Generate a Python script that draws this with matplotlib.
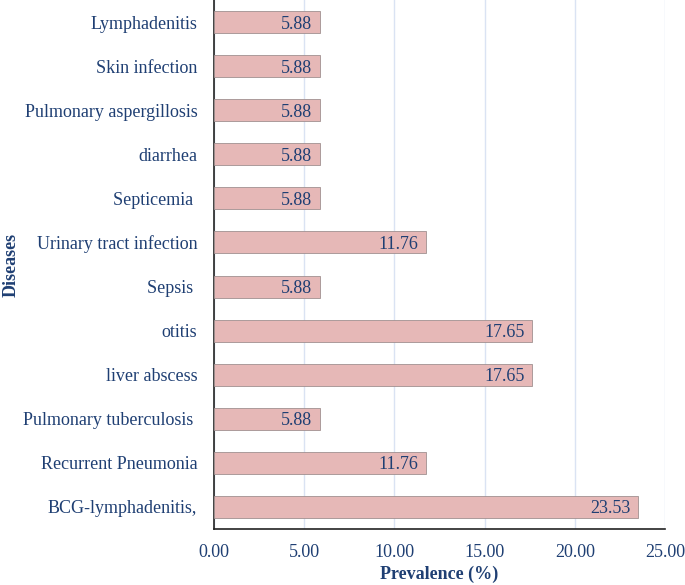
import matplotlib
matplotlib.use("Agg")
import matplotlib.pyplot as plt

diseases = ["BCG-lymphadenitis,", "Recurrent Pneumonia", "Pulmonary tuberculosis ",
            "liver abscess", "otitis", "Sepsis ", "Urinary tract infection",
            "Septicemia ", "diarrhea", "Pulmonary aspergillosis", "Skin infection",
            "Lymphadenitis"]
prevalence = [23.53, 11.76, 5.88, 17.65, 17.65, 5.88, 11.76, 5.88, 5.88, 5.88, 5.88, 5.88]
xticks = [0, 5, 10, 15, 20, 25]

plt.rcParams['font.family'] = ['Liberation Serif', 'DejaVu Serif']
text_color = '#1F3F73'
bar_color = '#E6B8B7'

fig = plt.figure(figsize=(6.85, 5.85), dpi=100)
ax = fig.add_axes([0.3124, 0.0957, 0.6584, 0.9043])

ypos = list(range(len(diseases)))
ax.barh(ypos, prevalence, height=0.5, color=bar_color, edgecolor='#a09090', linewidth=0.6, zorder=3)
for y, v in zip(ypos, prevalence):
    ax.text(v - 0.45, y, f"{v:.2f}", ha='right', va='center_baseline', fontsize=13,
            color=text_color, zorder=4)

ax.set_xlim(0, 25)
ax.set_ylim(-0.5, len(diseases) - 0.5)
ax.set_yticks(ypos)
ax.set_yticklabels(diseases, fontsize=13, color=text_color)
ax.set_xticks(xticks)
ax.set_xticklabels([f"{t:.2f}" for t in xticks], fontsize=13, color=text_color)
ax.tick_params(axis='both', length=0)
ax.tick_params(axis='y', pad=12)
ax.tick_params(axis='x', pad=11)
ax.xaxis.grid(True, color='#DAE3F3', linewidth=1.0, zorder=0)
ax.set_axisbelow(True)
for s in ['top', 'right']:
    ax.spines[s].set_visible(False)
ax.spines['left'].set_color('#222222')
ax.spines['bottom'].set_color('#222222')
ax.spines['left'].set_linewidth(1.2)
ax.spines['bottom'].set_linewidth(1.2)

ax.set_xlabel("Prevalence (%)", fontsize=13, fontweight='bold', color=text_color, labelpad=3)
ax.set_ylabel("Diseases", fontsize=13, fontweight='bold', color=text_color)
ax.yaxis.set_label_coords(-0.432, 0.5)

fig.savefig("out.png", dpi=100)
